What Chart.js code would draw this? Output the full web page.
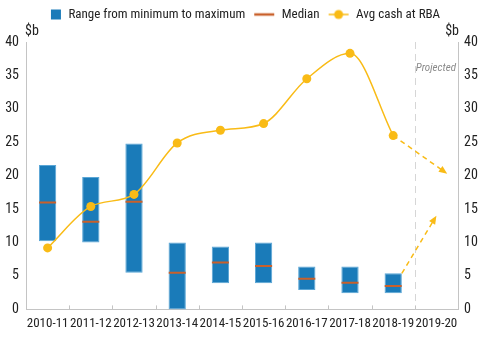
<!DOCTYPE html>
<html>
<head>
<meta charset="utf-8">
<script src="https://cdn.jsdelivr.net/npm/chart.js@4/dist/chart.umd.min.js"></script>
<style>
  html, body { margin: 0; padding: 0; background: #fff; }
  #wrap { width: 480px; height: 339px; }
</style>
</head>
<body>
<div id="wrap"><canvas id="cashChart" width="480" height="339"></canvas></div>
<script>
(function() {
  const years = ['2010-11', '2011-12', '2012-13', '2013-14', '2014-15',
                 '2015-16', '2016-17', '2017-18', '2018-19', '2019-20'];
  const rangeMin = [10.2, 10.0, 5.5, 0, 3.9, 3.9, 2.9, 2.4, 2.4, null];
  const rangeMax = [21.6, 19.8, 24.8, 10.0, 9.4, 10.0, 6.4, 6.4, 5.4, null];
  const median = [16.0, 13.1, 16.1, 5.5, 7.0, 6.5, 4.6, 4.0, 3.5, null];
  const avgCash = [9.2, 15.4, 17.2, 24.9, 26.8, 27.8, 34.5, 38.3, 26.0, null];
  // projected moves into 2019-20: [x index, $b] start and end points
  const projFrom = [[8.0, 26.0], [8.2, 5.4]];
  const projTo = [[9.25, 20.3], [9.0, 14.0]];
  const yTicks = [0, 5, 10, 15, 20, 25, 30, 35, 40];

  const FONT = "'Roboto Condensed', 'DejaVu Sans Condensed', sans-serif";
  const BLUE = '#1a7bb9';
  const ORANGE = '#c9602b';
  const YELLOW = '#f9bb16';
  const AXIS = '#c4c4c4';

  function legendIcon(kind) {
    const c = document.createElement('canvas');
    c.width = 22; c.height = 12;
    const g = c.getContext('2d');
    if (kind === 'box') {
      g.fillStyle = BLUE;
      g.fillRect(11, 1, 10, 10);
    } else if (kind === 'median') {
      g.strokeStyle = ORANGE; g.lineWidth = 2.5;
      g.beginPath(); g.moveTo(1, 6); g.lineTo(21, 6); g.stroke();
    } else {
      g.strokeStyle = YELLOW; g.lineWidth = 1.5;
      g.beginPath(); g.moveTo(1, 6); g.lineTo(21, 6); g.stroke();
      g.fillStyle = YELLOW;
      g.beginPath(); g.arc(11, 6, 4.5, 0, Math.PI * 2); g.fill();
    }
    return c;
  }

  const extras = {
    id: 'extras',
    beforeUpdate(chart) {
      // leave room under the legend for the $b unit labels
      const lg = chart.legend;
      if (lg && !lg._roomy) {
        const fit = lg.fit;
        lg.fit = function() { fit.call(this); this.height += 11; };
        lg._roomy = true;
      }
    },
    beforeDatasetsDraw(chart) {
      const ctx = chart.ctx;
      const xp = chart.scales.xp;
      const area = chart.chartArea;
      // projected divider
      ctx.save();
      ctx.strokeStyle = '#d6d6d6';
      ctx.lineWidth = 1;
      ctx.setLineDash([7, 5]);
      const xd = Math.round(xp.getPixelForValue(8.5)) + 0.5;
      ctx.beginPath(); ctx.moveTo(xd, area.top); ctx.lineTo(xd, area.bottom); ctx.stroke();
      ctx.setLineDash([]);
      // small inward ticks between categories
      ctx.strokeStyle = AXIS;
      for (let i = 0; i < years.length - 1; i++) {
        const x = Math.round(xp.getPixelForValue(i + 0.5)) + 0.5;
        ctx.beginPath(); ctx.moveTo(x, area.bottom); ctx.lineTo(x, area.bottom - 4); ctx.stroke();
      }
      ctx.restore();
    },
    afterDatasetsDraw(chart) {
      const ctx = chart.ctx;
      const xp = chart.scales.xp;
      const y = chart.scales.y;
      const area = chart.chartArea;
      ctx.save();
      projFrom.forEach((p, i) => {
        const x0 = xp.getPixelForValue(p[0]), y0 = y.getPixelForValue(p[1]);
        const x1 = xp.getPixelForValue(projTo[i][0]), y1 = y.getPixelForValue(projTo[i][1]);
        const ang = Math.atan2(y1 - y0, x1 - x0);
        const head = 9;
        ctx.strokeStyle = YELLOW;
        ctx.fillStyle = YELLOW;
        ctx.lineWidth = 1.5;
        ctx.setLineDash([5, 4]);
        ctx.beginPath();
        ctx.moveTo(x0, y0);
        ctx.lineTo(x1 - Math.cos(ang) * head * 0.8, y1 - Math.sin(ang) * head * 0.8);
        ctx.stroke();
        ctx.setLineDash([]);
        ctx.beginPath();
        ctx.moveTo(x1, y1);
        ctx.lineTo(x1 - head * Math.cos(ang - 0.4), y1 - head * Math.sin(ang - 0.4));
        ctx.lineTo(x1 - head * Math.cos(ang + 0.4), y1 - head * Math.sin(ang + 0.4));
        ctx.closePath();
        ctx.fill();
      });
      // unit labels and projection note
      ctx.fillStyle = '#222';
      ctx.font = '14px ' + FONT;
      ctx.textBaseline = 'alphabetic';
      ctx.textAlign = 'left';
      ctx.fillText('$b', area.left - 1, 35);
      ctx.textAlign = 'right';
      ctx.fillText('$b', area.right + 1, 35);
      ctx.fillStyle = '#8a8a8a';
      ctx.font = 'italic 11px ' + FONT;
      ctx.fillText('Projected', area.right - 2, 71);
      ctx.restore();
    }
  };

  const ctx = document.getElementById('cashChart').getContext('2d');
  new Chart(ctx, {
    data: {
      labels: years,
      datasets: [
        {
          type: 'bar',
          label: 'Range from minimum to maximum',
          data: rangeMin.map((v, i) => v === null ? null : [v, rangeMax[i]]),
          backgroundColor: BLUE,
          borderColor: '#5aa6d6',
          borderWidth: 1,
          borderSkipped: false,
          barPercentage: 0.4,
          categoryPercentage: 1,
          order: 3
        },
        {
          type: 'line',
          label: 'Median',
          data: median,
          showLine: false,
          pointStyle: 'line',
          pointRadius: 8.5,
          pointHoverRadius: 8.5,
          borderColor: ORANGE,
          borderWidth: 2,
          order: 2
        },
        {
          type: 'line',
          label: 'Avg cash at RBA',
          data: avgCash,
          borderColor: YELLOW,
          backgroundColor: YELLOW,
          borderWidth: 1.5,
          cubicInterpolationMode: 'monotone',
          pointRadius: 4.5,
          pointBackgroundColor: YELLOW,
          pointBorderWidth: 0,
          order: 1
        }
      ]
    },
    options: {
      responsive: false,
      animation: false,
      layout: { padding: { top: 0, left: 0, right: 0, bottom: 0 } },
      scales: {
        x: {
          type: 'category',
          offset: true,
          grid: { display: false, drawTicks: false },
          border: { color: AXIS },
          ticks: { color: '#222', font: { family: FONT, size: 13 }, maxRotation: 0, autoSkip: false, padding: 7 }
        },
        xp: {
          type: 'linear',
          display: false,
          min: -0.5,
          max: 9.5
        },
        y: {
          position: 'left',
          min: 0, max: 40,
          afterBuildTicks(s) { s.ticks = yTicks.map(v => ({ value: v })); },
          afterFit(s) { s.width = 26; },
          grid: { display: false, drawTicks: false },
          border: { color: AXIS },
          ticks: { color: '#222', font: { family: FONT, size: 14 }, padding: 7 }
        },
        y2: {
          position: 'right',
          min: 0, max: 40,
          afterBuildTicks(s) { s.ticks = yTicks.map(v => ({ value: v })); },
          afterFit(s) { s.width = 22; },
          grid: { display: false, drawTicks: false },
          border: { color: AXIS },
          ticks: { color: '#222', font: { family: FONT, size: 14 }, padding: 6 }
        }
      },
      plugins: {
        legend: {
          position: 'top',
          labels: {
            usePointStyle: true,
            pointStyleWidth: 22,
            color: '#222',
            font: { family: FONT, size: 13 },
            padding: 8,
            generateLabels(chart) {
              const icons = [legendIcon('box'), legendIcon('median'), legendIcon('line')];
              return chart.data.datasets.map((ds, i) => ({
                text: ds.label,
                pointStyle: icons[i],
                fillStyle: 'transparent',
                strokeStyle: 'transparent',
                lineWidth: 0,
                datasetIndex: i,
                hidden: false,
                fontColor: '#222'
              }));
            }
          }
        },
        tooltip: { enabled: false }
      }
    },
    plugins: [extras]
  });
})();
</script>
</body>
</html>
